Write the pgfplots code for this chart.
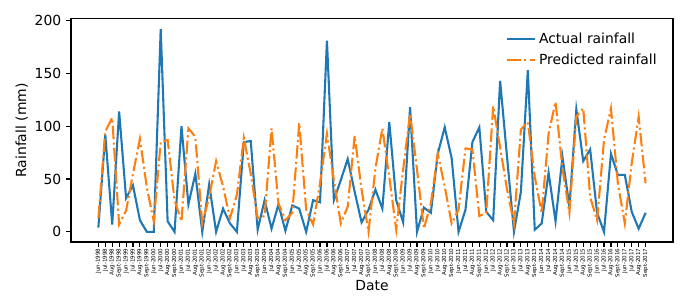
\documentclass[border=0pt]{standalone}
\usepackage{fontspec}
\setmainfont{DejaVu Sans}
\usepackage{pgfplots}
\pgfplotsset{compat=1.18}
\definecolor{mblue}{HTML}{1F77B4}
\definecolor{morange}{HTML}{FF7F0E}
\begin{document}
\begin{tikzpicture}
\begin{axis}[
  scale only axis,
  width=433.4pt, height=160.6pt,
  xmin=-3.95, xmax=82.95,
  ymin=-9.6, ymax=201.6,
  ytick={0,50,100,150,200},
  xtick={0,...,79},
  xticklabels={Jun-1998,Jul-1998,Aug-1998,Sept-1998,Jun-1999,Jul-1999,Aug-1999,Sept-1999,Jun-2000,Jul-2000,Aug-2000,Sept-2000,Jun-2001,Jul-2001,Aug-2001,Sept-2001,Jun-2002,Jul-2002,Aug-2002,Sept-2002,Jun-2003,Jul-2003,Aug-2003,Sept-2003,Jun-2004,Jul-2004,Aug-2004,Sept-2004,Jun-2005,Jul-2005,Aug-2005,Sept-2005,Jun-2006,Jul-2006,Aug-2006,Sept-2006,Jun-2007,Jul-2007,Aug-2007,Sept-2007,Jun-2008,Jul-2008,Aug-2008,Sept-2008,Jun-2009,Jul-2009,Aug-2009,Sept-2009,Jun-2010,Jul-2010,Aug-2010,Sept-2010,Jun-2011,Jul-2011,Aug-2011,Sept-2011,Jun-2012,Jul-2012,Aug-2012,Sept-2012,Jun-2013,Jul-2013,Aug-2013,Sept-2013,Jun-2014,Jul-2014,Aug-2014,Sept-2014,Jun-2015,Jul-2015,Aug-2015,Sept-2015,Jun-2016,Jul-2016,Aug-2016,Sept-2016,Jun-2017,Jul-2017,Aug-2017,Sept-2017},
  x tick label style={rotate=90, anchor=east, font=\fontsize{4}{4}\selectfont, inner sep=1pt},
  y tick label style={font=\fontsize{10}{12}\selectfont},
  /pgf/number format/assume math mode=true,
  tick align=outside,
  tick pos=left,
  major tick length=3.5pt,
  every tick/.style={black, line width=0.8pt},
  axis line style={line width=0.8pt},
  xlabel={Date},
  ylabel={Rainfall (mm)},
  label style={font=\fontsize{10}{12}\selectfont},
  xlabel style={yshift=2pt},
  ylabel style={yshift=-2pt},
  legend style={draw=none, fill=none, at={(0.985,0.965)}, anchor=north east, font=\fontsize{10}{12}\selectfont, row sep=2pt},
  legend cell align=left,
  legend image code/.code={\draw[#1] (0pt,0pt) -- (20pt,0pt);},
]
\addplot[mblue, line width=1.5pt] coordinates {
(0,4)(1,92)(2,7)(3,114)(4,32)(5,44)(6,11)(7,0)(8,0)(9,192)
(10,10)(11,0)(12,100)(13,26)(14,55)(15,0)(16,45)(17,0)(18,22)(19,8)
(20,0)(21,85)(22,86)(23,2)(24,30)(25,3)(26,26)(27,1)(28,25)(29,22)
(30,0)(31,30)(32,28)(33,181)(34,30)(35,49)(36,69)(37,38)(38,9)(39,21)
(40,40)(41,22)(42,104)(43,30)(44,9)(45,118)(46,0)(47,23)(48,18)(49,74)
(50,99)(51,70)(52,0)(53,21)(54,85)(55,99)(56,19)(57,11)(58,143)(59,71)
(60,0)(61,38)(62,153)(63,2)(64,8)(65,56)(66,10)(67,71)(68,24)(69,116)
(70,67)(71,78)(72,18)(73,0)(74,74)(75,54)(76,54)(77,19)(78,3)(79,18)
};
\addlegendentry{Actual rainfall}
\addplot[morange, line width=1.5pt, dash pattern=on 9.6pt off 2.4pt on 1.5pt off 2.4pt] coordinates {
(0,13)(1,95)(2,108)(3,7)(4,20)(5,55)(6,88)(7,42)(8,10)(9,85)
(10,87)(11,30)(12,10)(13,98)(14,90)(15,8)(16,33)(17,67)(18,43)(19,13)
(20,35)(21,89)(22,55)(23,13)(24,15)(25,98)(26,27)(27,11)(28,18)(29,103)
(30,21)(31,7)(32,46)(33,93)(34,49)(35,8)(36,24)(37,91)(38,40)(39,0)
(40,60)(41,98)(42,52)(43,2)(44,59)(45,112)(46,59)(47,3)(48,27)(49,74)
(50,43)(51,8)(52,21)(53,79)(54,78)(55,15)(56,18)(57,119)(58,80)(59,40)
(60,8)(61,97)(62,104)(63,52)(64,18)(65,93)(66,123)(67,60)(68,18)(69,109)
(70,117)(71,33)(72,11)(73,87)(74,117)(75,46)(76,8)(77,65)(78,109)(79,46)
};
\addlegendentry{Predicted rainfall}
\end{axis}
\pgfresetboundingbox
\path (-51.12pt,-41.76pt) rectangle (452.88pt,174.24pt);
\end{tikzpicture}
\end{document}
